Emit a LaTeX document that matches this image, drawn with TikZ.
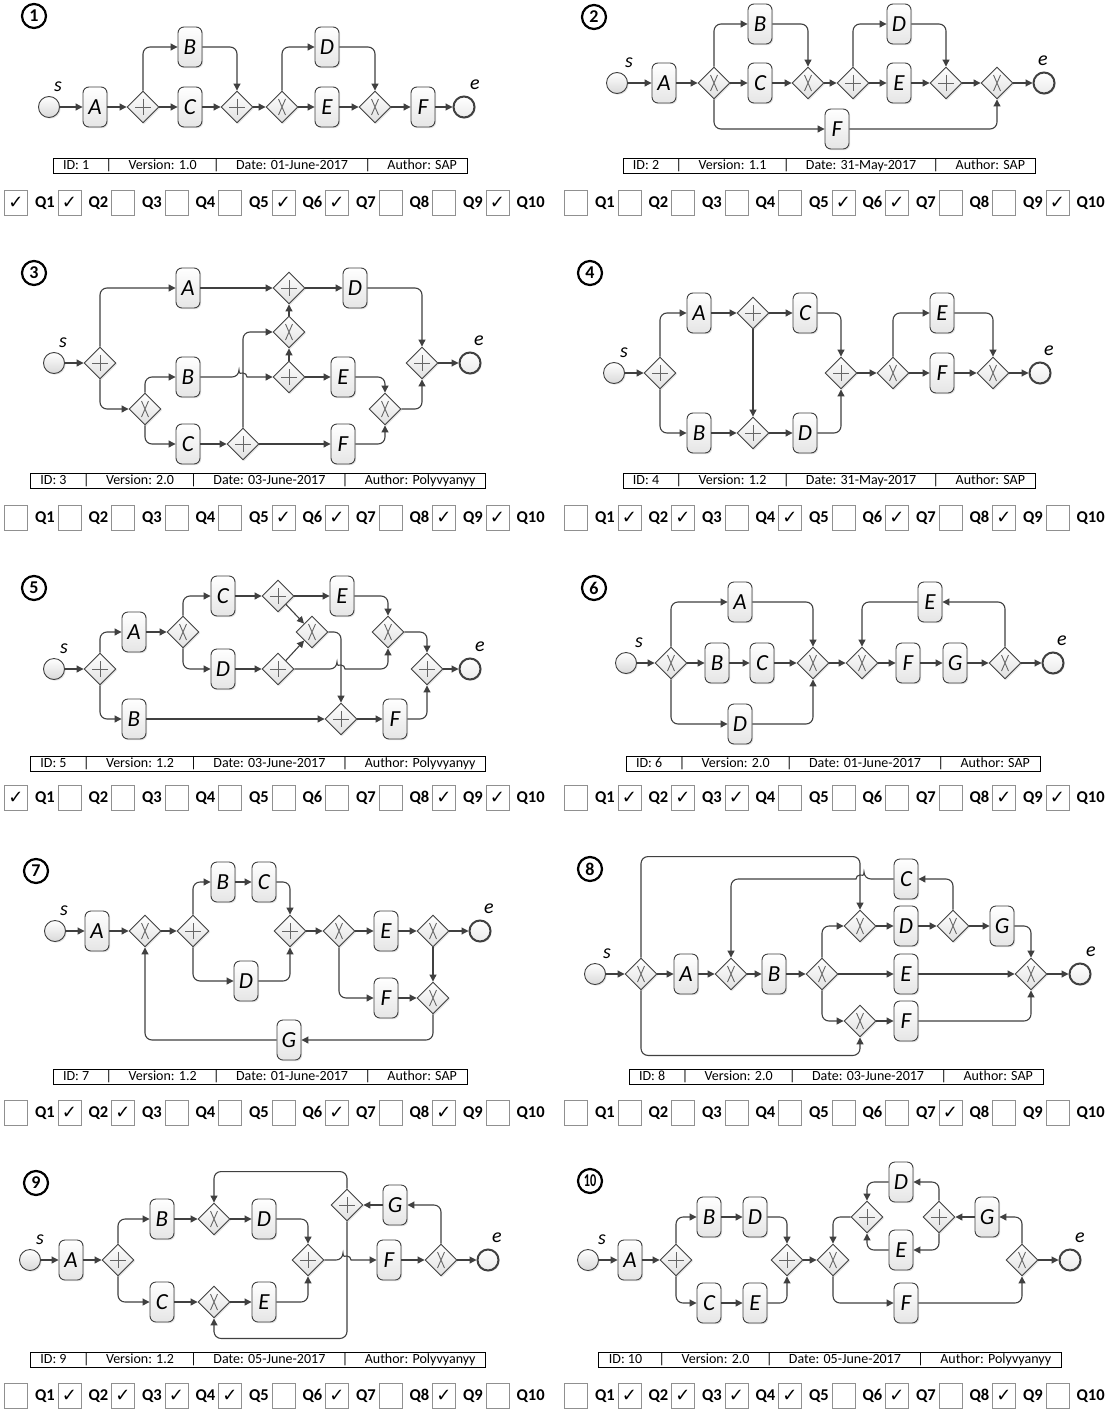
\documentclass[tikz,border=0pt]{standalone}
\usepackage{fontspec}
\setmainfont{Carlito}
\newfontfamily\symfont{DejaVu Sans}
\usepackage{tikz}
\usetikzlibrary{arrows.meta, positioning, shapes.geometric, shadows}
\definecolor{flowgray}{HTML}{404040}
\definecolor{boxgray}{HTML}{909090}

\begin{document}
\begin{tikzpicture}[x=1pt, y=-1pt,
  flow/.style={draw=flowgray, line width=1.1pt, rounded corners=7pt, -{Triangle[length=7pt, width=7pt]}},
  soft/.style={drop shadow={opacity=0.22, shadow xshift=1.2pt, shadow yshift=-1.2pt}},
  task/.style={soft, rectangle, rounded corners=6pt, draw=flowgray, line width=0.9pt, top color=white, bottom color=black!10,
               minimum width=24pt, minimum height=40pt, inner sep=0pt, font=\itshape\fontsize{23}{23}\selectfont},
  gw/.style={soft, diamond, draw=flowgray, line width=0.9pt, top color=white, bottom color=black!12,
             minimum width=32pt, minimum height=32pt, inner sep=0pt},
  gand/.style={gw, path picture={\draw[black!60, line width=0.9pt]
      ([yshift=8pt]path picture bounding box.center) -- ([yshift=-8pt]path picture bounding box.center)
      ([xshift=-8pt]path picture bounding box.center) -- ([xshift=8pt]path picture bounding box.center);}},
  gxor/.style={gw, path picture={\draw[black!60, line width=0.9pt]
      ([shift={(-3.5pt,8pt)}]path picture bounding box.center) -- ([shift={(3.5pt,-8pt)}]path picture bounding box.center)
      ([shift={(3.5pt,8pt)}]path picture bounding box.center) -- ([shift={(-3.5pt,-8pt)}]path picture bounding box.center);}},
  sev/.style={soft, circle, draw=flowgray, line width=0.9pt, top color=white, bottom color=black!15, minimum size=21pt, inner sep=0pt},
  eev/.style={sev, line width=2pt, bottom color=black!8},
  evlab/.style={font=\itshape\fontsize{20}{20}\selectfont, inner sep=0pt},
  info/.style={draw=black, line width=0.8pt, inner xsep=10pt, inner ysep=1pt, minimum height=15pt, font=\fontsize{14}{14}\selectfont},
  cbox/.style={draw=boxgray, line width=0.8pt, minimum width=23pt, minimum height=25pt, inner sep=0pt, font=\symfont\bfseries\fontsize{18}{18}\selectfont},
  qlab/.style={font=\bfseries\fontsize{16.5}{17}\selectfont, inner sep=0pt},
  pnum/.style={circle, draw=black, line width=2.2pt, minimum size=24pt, inner sep=0pt, font=\bfseries\fontsize{18}{18}\selectfont},
]
  \path[fill=white, use as bounding box] (0,0) rectangle (1119,1410);
  \def\vb{\hspace{16.5pt}|\hspace{16.5pt}}

  % model 1
  \node[sev] (st1) at (49,107) {};
  \foreach \n/\lab/\x/\y in {A1/A/95/107, B1/B/190/47, C1/C/190/107, D1/D/327/47, E1/E/327/107, F1/F/423/107}
    \node[task] (\n) at (\x,\y) {\lab};
  \node[gand] (g1a) at (143,107) {}; \node[gand] (g1b) at (237,107) {};
  \node[gxor] (g1c) at (282,107) {}; \node[gxor] (g1d) at (375,107) {};
  \node[eev] (en1) at (464,107) {};
  \foreach \a/\b in {st1/A1, A1/g1a, g1a/C1, C1/g1b, g1b/g1c, g1c/E1, E1/g1d, g1d/F1, F1/en1} \draw[flow] (\a) -- (\b);
  \foreach \a/\b in {g1a/B1, g1c/D1} \draw[flow] (\a) |- (\b);
  \foreach \a/\b in {B1/g1b, D1/g1d} \draw[flow] (\a) -| (\b);

  % model 2
  \node[sev] (st2) at (617,83) {};
  \foreach \n/\lab/\x/\y in {A2/A/664/83, B2/B/760/24, C2/C/760/83, D2/D/899/24, E2/E/899/83, F2/F/837/129}
    \node[task] (\n) at (\x,\y) {\lab};
  \node[gxor] (g2a) at (714,83) {}; \node[gxor] (g2b) at (808,83) {}; \node[gand] (g2c) at (853,83) {};
  \node[gand] (g2d) at (946,83) {}; \node[gxor] (g2e) at (997,83) {};
  \node[eev] (en2) at (1044,83) {};
  \foreach \a/\b in {st2/A2, A2/g2a, g2a/C2, C2/g2b, g2b/g2c, g2c/E2, E2/g2d, g2d/g2e, g2e/en2} \draw[flow] (\a) -- (\b);
  \foreach \a/\b in {g2a/B2, g2c/D2, g2a/F2} \draw[flow] (\a) |- (\b);
  \foreach \a/\b in {B2/g2b, D2/g2d, F2/g2e} \draw[flow] (\a) -| (\b);

  % model 3
  \node[sev] (st3) at (54,363) {};
  \foreach \n/\lab/\x/\y in {A3/A/188/288, B3/B/188/377, C3/C/188/444, D3/D/355/288, E3/E/343/377, F3/F/343/444}
    \node[task] (\n) at (\x,\y) {\lab};
  \node[gand] (g3a) at (100,363) {}; \node[gand] (g3b) at (289,288) {}; \node[gxor] (g3c) at (145,409) {};
  \node[gxor] (g3d) at (289,332) {}; \node[gand] (g3e) at (289,377) {}; \node[gand] (g3f) at (243,444) {};
  \node[gxor] (g3g) at (385,409) {}; \node[gand] (g3h) at (422,363) {};
  \node[eev] (en3) at (470,363) {};
  \foreach \a/\b in {st3/g3a, A3/g3b, g3b/D3, g3e/E3, g3e/g3d, g3d/g3b, C3/g3f, g3f/F3, g3h/en3} \draw[flow] (\a) -- (\b);
  \foreach \a/\b in {g3a/A3, g3a/g3c, g3c/B3, g3c/C3, g3f/g3d} \draw[flow] (\a) |- (\b);
  \foreach \a/\b in {D3/g3h, E3/g3g, F3/g3g, g3g/g3h} \draw[flow] (\a) -| (\b);
  \draw[flow] (B3) -- ([xshift=-4pt]g3f.center |- B3.east) [sharp corners] arc (180:360:4) -- (g3e);

  % model 4
  \node[sev] (st4) at (614,373) {};
  \foreach \n/\lab/\x/\y in {A4/A/699/313, B4/B/699/433, C4/C/805/313, D4/D/805/433, E4/E/942/313, F4/F/942/373}
    \node[task] (\n) at (\x,\y) {\lab};
  \node[gand] (g4a) at (660,373) {}; \node[gand] (g4b) at (753,313) {}; \node[gand] (g4c) at (753,433) {};
  \node[gand] (g4d) at (841,373) {}; \node[gxor] (g4e) at (893,373) {}; \node[gxor] (g4f) at (993,373) {};
  \node[eev] (en4) at (1040,373) {};
  \foreach \a/\b in {st4/g4a, A4/g4b, g4b/C4, B4/g4c, g4c/D4, g4b/g4c, g4d/g4e, g4e/F4, F4/g4f, g4f/en4} \draw[flow] (\a) -- (\b);
  \foreach \a/\b in {g4a/A4, g4a/B4, g4e/E4} \draw[flow] (\a) |- (\b);
  \foreach \a/\b in {C4/g4d, D4/g4d, E4/g4f} \draw[flow] (\a) -| (\b);

  % model 5
  \node[sev] (st5) at (54,669) {};
  \foreach \n/\lab/\x/\y in {A5/A/134/632, B5/B/134/719, C5/C/223/596, D5/D/223/669, E5/E/342/596, F5/F/395/719}
    \node[task] (\n) at (\x,\y) {\lab};
  \node[gand] (g5a) at (100,669) {}; \node[gxor] (g5b) at (183,632) {}; \node[gand] (g5c) at (278,596) {};
  \node[gand] (g5d) at (278,669) {}; \node[gxor] (g5e) at (312,632) {}; \node[gxor] (g5f) at (388,632) {};
  \node[gand] (g5g) at (427,669) {}; \node[gand] (g5h) at (341,719) {};
  \node[eev] (en5) at (470,669) {};
  \foreach \a/\b in {st5/g5a, A5/g5b, C5/g5c, g5c/E5, g5c/g5e, D5/g5d, g5d/g5e, B5/g5h, g5h/F5, g5g/en5} \draw[flow] (\a) -- (\b);
  \foreach \a/\b in {g5a/A5, g5a/B5, g5b/C5, g5b/D5} \draw[flow] (\a) |- (\b);
  \foreach \a/\b in {g5e/g5h, E5/g5f, g5f/g5g, F5/g5g} \draw[flow] (\a) -| (\b);
  \draw[flow] (g5d) -- ([xshift=-4pt]g5h.center |- g5d.east) [sharp corners] arc (180:360:4) [rounded corners=7pt] -| (g5f);

  % model 6
  \node[sev] (st6) at (626,663) {};
  \foreach \n/\lab/\x/\y in {A6/A/740/602, B6/B/717/663, C6/C/762/663, D6/D/740/724, E6/E/930/602, F6/F/908/663, G6/G/955/663}
    \node[task] (\n) at (\x,\y) {\lab};
  \node[gxor] (g6a) at (671,663) {}; \node[gxor] (g6b) at (813,663) {};
  \node[gxor] (g6c) at (862,663) {}; \node[gxor] (g6d) at (1005,663) {};
  \node[eev] (en6) at (1053,663) {};
  \foreach \a/\b in {st6/g6a, g6a/B6, B6/C6, C6/g6b, g6b/g6c, g6c/F6, F6/G6, G6/g6d, g6d/en6} \draw[flow] (\a) -- (\b);
  \foreach \a/\b in {g6a/A6, g6a/D6, g6d/E6} \draw[flow] (\a) |- (\b);
  \foreach \a/\b in {A6/g6b, D6/g6b, E6/g6c} \draw[flow] (\a) -| (\b);

  % model 7
  \node[sev] (st7) at (55,931) {};
  \foreach \n/\lab/\x/\y in {A7/A/97/931, B7/B/223/882, C7/C/264/882, D7/D/246/981, E7/E/386/931, F7/F/386/998, G7/G/289/1040}
    \node[task] (\n) at (\x,\y) {\lab};
  \node[gxor] (g7a) at (145,931) {}; \node[gand] (g7b) at (193,931) {}; \node[gand] (g7c) at (290,931) {};
  \node[gxor] (g7d) at (339,931) {}; \node[gxor] (g7e) at (433,931) {}; \node[gxor] (g7f) at (433,998) {};
  \node[eev] (en7) at (480,931) {};
  \foreach \a/\b in {st7/A7, A7/g7a, g7a/g7b, B7/C7, g7c/g7d, g7d/E7, E7/g7e, g7e/en7, g7e/g7f, F7/g7f} \draw[flow] (\a) -- (\b);
  \foreach \a/\b in {g7b/B7, g7b/D7, g7d/F7, g7f/G7} \draw[flow] (\a) |- (\b);
  \foreach \a/\b in {C7/g7c, D7/g7c, G7/g7a} \draw[flow] (\a) -| (\b);

  % model 8
  \node[sev] (st8) at (595,974) {};
  \foreach \n/\lab/\x/\y in {A8/A/686/974, B8/B/774/974, C8/C/906/879, D8/D/906/926, E8/E/906/974, F8/F/906/1021, G8/G/1002/926}
    \node[task] (\n) at (\x,\y) {\lab};
  \node[gxor] (g8a) at (641,974) {}; \node[gxor] (g8b) at (731,974) {}; \node[gxor] (g8c) at (822,974) {};
  \node[gxor] (g8d) at (860,926) {}; \node[gxor] (g8e) at (860,1021) {}; \node[gxor] (g8f) at (953,926) {};
  \node[gxor] (g8g) at (1031,974) {};
  \node[eev] (en8) at (1080,974) {};
  \foreach \a/\b in {st8/g8a, g8a/A8, A8/g8b, g8b/B8, B8/g8c, g8c/E8, g8d/D8, D8/g8f, g8f/G8, g8e/F8, E8/g8g, g8g/en8} \draw[flow] (\a) -- (\b);
  \foreach \a/\b in {g8c/g8d, g8c/g8e, g8f/C8} \draw[flow] (\a) |- (\b);
  \foreach \a/\b in {G8/g8g, F8/g8g} \draw[flow] (\a) -| (\b);
  \draw[flow] (C8) -- ([xshift=4pt]g8d.center |- C8.west) [sharp corners] arc (0:-180:4) [rounded corners=7pt] -| (g8b);
  \draw[flow] (g8a.north) -- ++(0,-101) -| (g8d);
  \draw[flow] (g8a.south) -- ++(0,65) -| (g8e);

  % model 9
  \node[sev] (st9) at (30,1260) {};
  \foreach \n/\lab/\x/\y in {A9/A/71/1260, B9/B/162/1219, C9/C/162/1302, D9/D/264/1219, E9/E/264/1302, F9/F/389/1260, G9/G/395/1205}
    \node[task] (\n) at (\x,\y) {\lab};
  \node[gand] (g9a) at (118,1260) {}; \node[gxor] (g9b) at (214,1219) {}; \node[gxor] (g9c) at (214,1302) {};
  \node[gand] (g9d) at (308,1260) {}; \node[gxor] (g9e) at (441,1260) {}; \node[gand] (g9f) at (347,1205) {};
  \node[eev] (en9) at (488,1260) {};
  \foreach \a/\b in {st9/A9, A9/g9a, B9/g9b, g9b/D9, C9/g9c, g9c/E9, F9/g9e, g9e/en9, G9/g9f} \draw[flow] (\a) -- (\b);
  \foreach \a/\b in {g9a/B9, g9a/C9, g9e/G9} \draw[flow] (\a) |- (\b);
  \foreach \a/\b in {D9/g9d, E9/g9d} \draw[flow] (\a) -| (\b);
  \draw[flow] (g9d) -- ([xshift=-4pt]g9f.center |- g9d.east) [sharp corners] arc (180:360:4) -- (F9);
  \draw[flow] (g9f.north) -- ++(0,-17) -| (g9b);
  \draw[flow] (g9f.south) -- ++(0,117) -| (g9c);

  % model 10
  \node[sev] (st10) at (588,1260) {};
  \foreach \n/\lab/\x/\y in {A10/A/630/1260, B10/B/709/1217, C10/C/709/1303, D10/D/755/1217, E10/E/755/1303,
                            F10/F/906/1303, G10/G/987/1217, D10b/D/901/1182, E10b/E/901/1250}
    \node[task] (\n) at (\x,\y) {\lab};
  \node[gand] (g10a) at (676,1260) {}; \node[gand] (g10b) at (787,1260) {}; \node[gxor] (g10c) at (833,1260) {};
  \node[gand] (g10d) at (867,1217) {}; \node[gand] (g10e) at (939,1217) {}; \node[gxor] (g10f) at (1022,1260) {};
  \node[eev] (en10) at (1070,1260) {};
  \foreach \a/\b in {st10/A10, A10/g10a, B10/D10, C10/E10, g10b/g10c, G10/g10e, g10f/en10} \draw[flow] (\a) -- (\b);
  \foreach \a/\b in {g10a/B10, g10a/C10, g10c/F10, g10f/G10, g10e/D10b, g10e/E10b} \draw[flow] (\a) |- (\b);
  \foreach \a/\b in {D10/g10b, E10/g10b, F10/g10f, D10b/g10d, E10b/g10d, g10d/g10c} \draw[flow] (\a) -| (\b);

  % event labels, numbers, info bars
  \foreach \n/\dx in {1/9,2/12,3/9,4/10,5/10,6/13,7/9,8/12,9/10,10/14}
    \node[evlab] (ls\n) at ([xshift=\dx, yshift=20]st\n.center) {s};
  \foreach \n/\dx in {1/11,2/-1,3/9,4/9,5/10,6/9,7/9,8/11,9/9,10/10}
    \node[evlab] (le\n) at ([xshift=\dx, yshift=22]en\n.center) {e};
  \foreach \n/\x/\y in {1/34/16, 2/594/17, 3/34/273, 4/590/273, 5/34/588, 6/594/588, 7/36/871, 8/590/869, 9/36/1183, 10/590/1181}
    \node[pnum] (num\n) at (\x,\y) {\ifnum\n<10 \n\else\scalebox{0.68}[1]{\n}\fi};

  \node[info] (id1) at (260,166) {ID: 1\vb Version: 1.0\vb Date: 01-June-2017\vb Author: SAP};
  \node[info] (id2) at (829,166) {ID: 2\vb Version: 1.1\vb Date: 31-May-2017\vb Author: SAP};
  \node[info] (id3) at (258,481) {ID: 3\vb Version: 2.0\vb Date: 03-June-2017\vb Author: Polyvyanyy};
  \node[info] (id4) at (829,481) {ID: 4\vb Version: 1.2\vb Date: 31-May-2017\vb Author: SAP};
  \node[info] (id5) at (258,764) {ID: 5\vb Version: 1.2\vb Date: 03-June-2017\vb Author: Polyvyanyy};
  \node[info] (id6) at (833,764) {ID: 6\vb Version: 2.0\vb Date: 01-June-2017\vb Author: SAP};
  \node[info] (id7) at (260,1077) {ID: 7\vb Version: 1.2\vb Date: 01-June-2017\vb Author: SAP};
  \node[info] (id8) at (836,1077) {ID: 8\vb Version: 2.0\vb Date: 03-June-2017\vb Author: SAP};
  \node[info] (id9) at (258,1360) {ID: 9\vb Version: 1.2\vb Date: 05-June-2017\vb Author: Polyvyanyy};
  \node[info] (id10) at (830,1360) {ID: 10\vb Version: 2.0\vb Date: 05-June-2017\vb Author: Polyvyanyy};

  % question boxes
  \foreach \n/\px/\py/\fl in {1/16/203/{1,1,0,0,0,1,1,0,0,1}, 2/576/203/{0,0,0,0,0,1,1,0,0,1},
      3/16/518/{0,0,0,0,0,1,1,0,1,1}, 4/576/518/{0,1,1,0,1,0,1,0,1,0},
      5/16/798/{1,0,0,0,0,0,0,0,1,1}, 6/576/798/{0,1,1,1,0,0,0,0,1,1},
      7/16/1113/{0,1,1,0,0,0,1,0,1,0}, 8/576/1113/{0,0,0,0,0,0,0,1,0,0},
      9/16/1396/{0,1,1,1,1,0,1,0,1,0}, 10/576/1396/{0,1,1,1,1,0,1,0,1,0}}{
    \foreach \f [count=\i] in \fl {
      \node[cbox] (cb\n-\i) at ({\px+53.5*(\i-1)},\py) {\ifnum\f=1 ✓\fi};
      \node[qlab, right=7pt of cb\n-\i] (q\n-\i) {Q\i};
    }}
\end{tikzpicture}
\end{document}
